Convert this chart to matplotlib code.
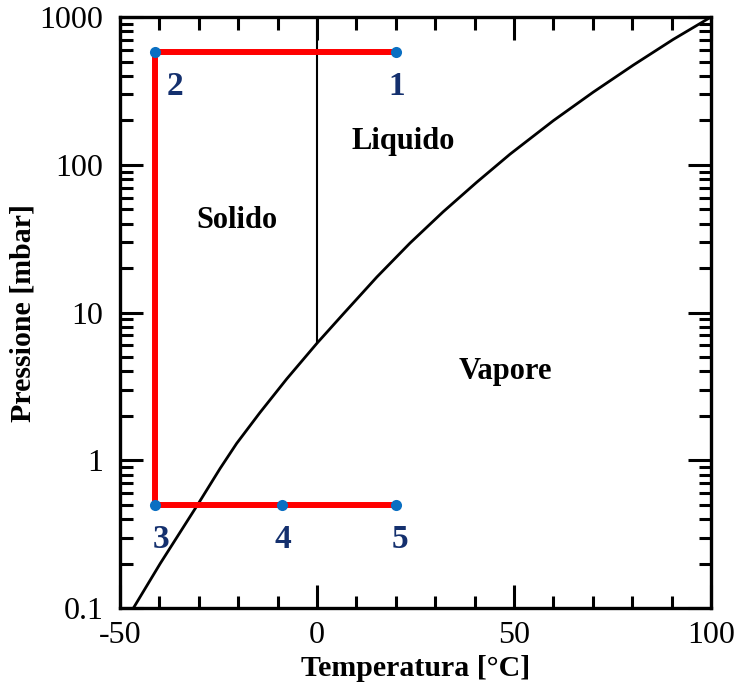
import numpy as np
import matplotlib
matplotlib.use('Agg')
import matplotlib.pyplot as plt
from matplotlib.ticker import (FixedLocator, LogLocator, MultipleLocator,
                               NullFormatter, FuncFormatter)

# vapour pressure curve (temperature in C, pressure in mbar)
curve_T = [-46.6, -39.8, -30.1, -24.6, -20.4, -14.5, -7.7, 0.0, 6.7, 15.2,
           23.6, 32.0, 40.5, 49.0, 60.0, 70.1, 80.3, 90.4, 100.0]
curve_P = [0.1, 0.2, 0.51, 0.88, 1.3, 2.1, 3.55, 6.2, 9.8, 17.4,
           29.5, 48, 76, 118, 199, 310, 473, 705, 1000]

# solid/liquid boundary
melt_T = [0.0, 0.0]
melt_P = [6.2, 1000]

# freeze-drying path 1 -> 5
path_labels = ['1', '2', '3', '4', '5']
path_T = [20, -41, -41, -9, 20]
path_P = [580, 580, 0.5, 0.5, 0.5]

regions = ['Solido', 'Liquido', 'Vapore']
region_T = [-20.3, 21.8, 47.7]
region_P = [42, 143, 4.0]

plt.rcParams['font.family'] = 'Liberation Serif'

fig = plt.figure(figsize=(7.35, 6.98), dpi=100)
ax = fig.add_axes([0.1633, 0.1289, 0.9673 - 0.1633, 0.9756 - 0.1289])

ax.plot(curve_T, curve_P, color='black', lw=2.0, solid_joinstyle='round')
ax.plot(melt_T, melt_P, color='black', lw=1.5)
ax.plot(path_T, path_P, color='#ff0000', lw=4.3, zorder=3)
ax.plot(path_T, path_P, 'o', color='#0a6fc2', ms=8, zorder=4, mec='none')

# point numbers sit just under each marker
offsets = [(1, -25), (14, -25), (4, -25), (1, -25), (3, -25)]
for lab, t, p, off in zip(path_labels, path_T, path_P, offsets):
    ax.annotate(lab, (t, p), xytext=off, textcoords='offset points',
                ha='center', va='center', fontsize=24, fontweight='bold',
                color='#14306e')

for name, t, p in zip(regions, region_T, region_P):
    ax.text(t, p, name, ha='center', va='center', fontsize=22,
            fontweight='bold', color='black')

ax.set_yscale('log')
ax.set_xlim(-50, 100)
ax.set_ylim(0.1, 1000)

ax.xaxis.set_major_locator(MultipleLocator(50))
ax.xaxis.set_minor_locator(MultipleLocator(10))
ax.xaxis.set_major_formatter(FuncFormatter(lambda v, p: '%d' % v))
ax.yaxis.set_major_locator(FixedLocator([0.1, 1, 10, 100, 1000]))
ax.yaxis.set_minor_locator(LogLocator(base=10, subs=np.arange(2, 10)))
ax.yaxis.set_major_formatter(FuncFormatter(lambda v, p: '%g' % v))
ax.yaxis.set_minor_formatter(NullFormatter())

ax.tick_params(which='both', direction='in', top=True, right=True,
               width=2.2, labelsize=23)
ax.tick_params(which='major', length=16.5)
ax.tick_params(which='minor', length=9)
ax.tick_params(axis='y', pad=12)
ax.tick_params(axis='x', pad=9)
for s in ax.spines.values():
    s.set_linewidth(2.4)

ax.set_xlabel('Temperatura [°C]', fontsize=21.5, fontweight='bold', labelpad=4)
ax.set_ylabel('Pressione [mbar]', fontsize=21.5, fontweight='bold', labelpad=2)

fig.savefig('out.png', dpi=100)
